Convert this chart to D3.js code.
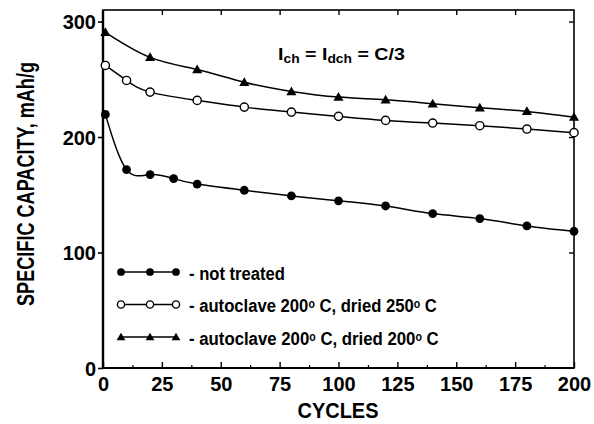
<!DOCTYPE html>
<html>
<head>
<meta charset="utf-8">
<script src="https://cdn.jsdelivr.net/npm/d3@7"></script>
<style>
  html, body { margin: 0; padding: 0; background: #fff; }
  svg { display: block; }
  text { font-family: "Liberation Sans", Arial, Helvetica, sans-serif; font-weight: bold; fill: #000; }
</style>
</head>
<body>
<svg id="chart" width="594" height="424"></svg>
<script>
// Cycle numbers and specific capacity (mAh/g) for each electrode treatment
const cyclesNotTreated = [1, 10, 20, 30, 40, 60, 80, 100, 120, 140, 160, 180, 200];
const capNotTreated    = [219.6, 171.8, 167.5, 164, 159.3, 153.9, 149, 144.8, 140.3, 133.7, 129.4, 123, 118.4];

const cyclesDried250 = [1, 10, 20, 40, 60, 80, 100, 120, 140, 160, 180, 200];
const capDried250    = [262, 249, 238.9, 231.7, 225.9, 221.6, 217.9, 214.4, 212.1, 209.8, 206.9, 203.8];

const cyclesDried200 = [1, 20, 40, 60, 80, 100, 120, 140, 160, 180, 200];
const capDried200    = [290.7, 269, 258.5, 247.5, 239.5, 234.6, 232.3, 228.8, 225.4, 222.2, 217.3];

const xTicks = [0, 25, 50, 75, 100, 125, 150, 175, 200];
const yTicks = [0, 100, 200, 300];
const seriesLabels = ["not treated", "autoclave 200", "autoclave 200"];

const svg = d3.select("#chart");
const plotLeft = 103, plotRight = 574, plotTop = 10, plotBottom = 368;

const x = d3.scaleLinear().domain([0, 200]).range([plotLeft, plotRight]);
const y = d3.scaleLinear().domain([0, 310]).range([plotBottom, plotTop]);

// Stretch a text horizontally so that it spans a given width
function fitWidth(textSel, width) {
  const w = textSel.node().getComputedTextLength();
  const tx = +textSel.attr("data-x"), ty = +textSel.attr("data-y");
  textSel.attr("transform", `translate(${tx},${ty}) scale(${width / w},1)`);
}

// Frame
svg.append("rect")
  .attr("x", plotLeft).attr("y", plotTop)
  .attr("width", plotRight - plotLeft).attr("height", plotBottom - plotTop)
  .attr("fill", "none").attr("stroke", "#000").attr("stroke-width", 1.6);
svg.append("line").attr("x1", plotLeft).attr("x2", plotLeft).attr("y1", plotTop).attr("y2", plotBottom)
  .attr("stroke", "#000").attr("stroke-width", 2.4);
svg.append("line").attr("x1", plotLeft).attr("x2", plotRight).attr("y1", plotBottom).attr("y2", plotBottom)
  .attr("stroke", "#000").attr("stroke-width", 2.2);

// Left axis: outward ticks with labels
const gLeft = svg.append("g").attr("transform", `translate(${plotLeft},0)`)
  .call(d3.axisLeft(y).tickValues(yTicks).tickSize(5).tickSizeOuter(0).tickPadding(2));
gLeft.select(".domain").remove();
gLeft.selectAll("text").attr("font-size", 20).attr("font-family", null).attr("dy", "0.36em");
gLeft.selectAll("line").attr("stroke-width", 1.6);

// Bottom axis: inward ticks with labels
const gBottom = svg.append("g").attr("transform", `translate(0,${plotBottom})`)
  .call(d3.axisBottom(x).tickValues(xTicks).tickSize(-6).tickSizeOuter(0).tickPadding(9));
gBottom.select(".domain").remove();
gBottom.selectAll("text").attr("font-size", 20).attr("font-family", null);
gBottom.selectAll("line").attr("stroke-width", 1.4);

// Bottom minor ticks
const gBottomMinor = svg.append("g").attr("transform", `translate(0,${plotBottom})`)
  .call(d3.axisBottom(x).tickValues(d3.range(12.5, 200, 25)).tickSize(-3).tickSizeOuter(0).tickFormat(""));
gBottomMinor.select(".domain").remove();
gBottomMinor.selectAll("line").attr("stroke-width", 1.2);

// Top axis: inward ticks, no labels
const gTop = svg.append("g").attr("transform", `translate(0,${plotTop})`)
  .call(d3.axisTop(x).tickValues(xTicks.slice(1, -1)).tickSize(-5).tickSizeOuter(0).tickFormat(""));
gTop.select(".domain").remove();
gTop.selectAll("line").attr("stroke-width", 1.4);

// Right axis: inward ticks, no labels
const gRight = svg.append("g").attr("transform", `translate(${plotRight},0)`)
  .call(d3.axisRight(y).tickValues([100, 200, 300]).tickSize(-5).tickSizeOuter(0).tickFormat(""));
gRight.select(".domain").remove();
gRight.selectAll("line").attr("stroke-width", 1.4);

// Axis titles
const yTitle = svg.append("text")
  .attr("font-size", 24)
  .attr("text-anchor", "middle")
  .text("SPECIFIC CAPACITY, mAh/g");
{
  const w = yTitle.node().getComputedTextLength();
  yTitle.attr("transform", `translate(34,184) rotate(-90) scale(${244 / w},1)`);
}

const xTitle = svg.append("text")
  .attr("data-x", 338).attr("data-y", 418)
  .attr("font-size", 22)
  .attr("text-anchor", "middle")
  .text("CYCLES");
fitWidth(xTitle, 81);

// Series
const series = [
  { xs: cyclesNotTreated, ys: capNotTreated, marker: "dot" },
  { xs: cyclesDried250, ys: capDried250, marker: "ring" },
  { xs: cyclesDried200, ys: capDried200, marker: "tri" }
];

const line = d3.line()
  .x(d => x(d[0]))
  .y(d => y(d[1]))
  .curve(d3.curveNatural);

const triangle = d3.symbol().type(d3.symbolTriangle);

function drawMarker(g, cx, cy, kind, k = 1) {
  if (kind === "dot") {
    g.append("circle").attr("cx", cx).attr("cy", cy).attr("r", 4.4 * k).attr("fill", "#000");
  } else if (kind === "ring") {
    g.append("circle").attr("cx", cx).attr("cy", cy).attr("r", 4.1 * k)
      .attr("fill", "#fff").attr("stroke", "#000").attr("stroke-width", 1.4);
  } else {
    g.append("path").attr("d", triangle.size(44 * k * k)()).attr("transform", `translate(${cx},${cy + 0.8})`).attr("fill", "#000");
  }
}

series.forEach(s => {
  const pts = s.xs.map((c, i) => [c, s.ys[i]]);
  svg.append("path")
    .attr("d", line(pts))
    .attr("fill", "none")
    .attr("stroke", "#000")
    .attr("stroke-width", 1.5);
  const g = svg.append("g");
  pts.forEach(p => drawMarker(g, x(p[0]), y(p[1]), s.marker));
});

// Legend
const legendRows = [272, 304.5, 337];
const legendWidths = [96, 248, 250];
const legendDried = ["", "250", "200"];
series.forEach((s, i) => {
  const ly = legendRows[i];
  svg.append("line").attr("x1", 121).attr("x2", 176).attr("y1", ly).attr("y2", ly)
    .attr("stroke", "#000").attr("stroke-width", 1.5);
  const g = svg.append("g");
  [121, 150, 176].forEach(lx => drawMarker(g, lx, ly, s.marker, 0.88));
  const t = svg.append("text")
    .attr("data-x", 189).attr("data-y", ly + 7.5)
    .attr("font-size", 19);
  if (i === 0) {
    t.text("- " + seriesLabels[0]);
  } else {
    t.append("tspan").text("- " + seriesLabels[i]);
    t.append("tspan").attr("font-size", 12).attr("dy", -4).text("o");
    t.append("tspan").attr("dy", 4).text(" C, dried " + legendDried[i]);
    t.append("tspan").attr("font-size", 12).attr("dy", -4).text("o");
    t.append("tspan").attr("dy", 4).text(" C");
  }
  fitWidth(t, legendWidths[i]);
});

// Current annotation
const note = svg.append("text")
  .attr("data-x", 278).attr("data-y", 60)
  .attr("font-size", 17);
note.append("tspan").text("I");
note.append("tspan").attr("font-size", 12).attr("dy", 3).text("ch");
note.append("tspan").attr("dy", -3).text(" = I");
note.append("tspan").attr("font-size", 12).attr("dy", 3).text("dch");
note.append("tspan").attr("dy", -3).text(" = C/3");
fitWidth(note, 127);
</script>
</body>
</html>
